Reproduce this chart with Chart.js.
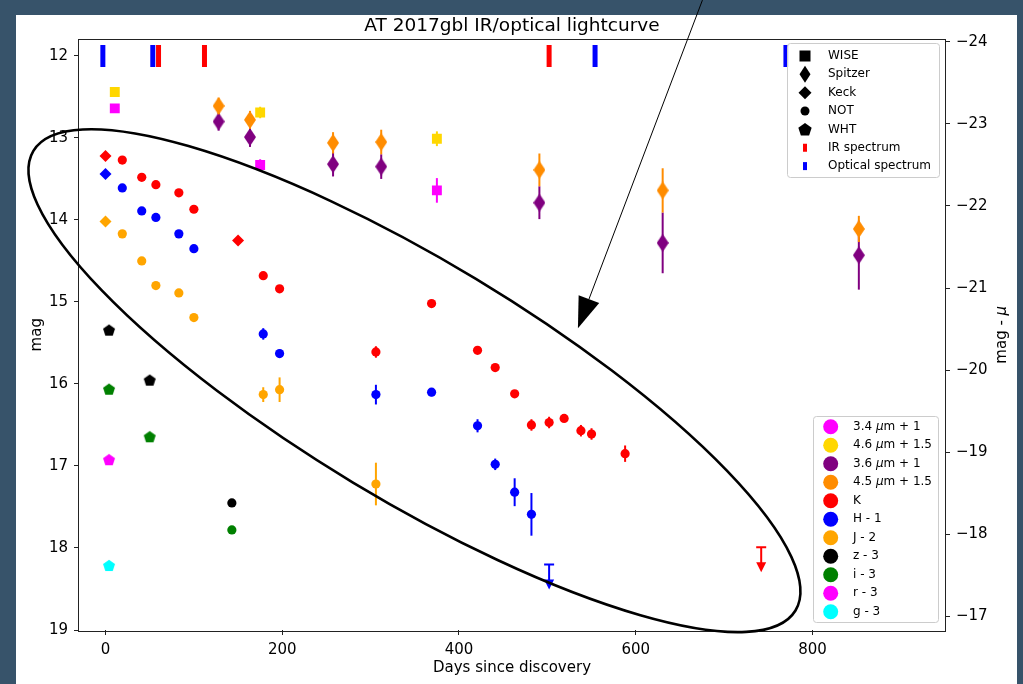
<!DOCTYPE html>
<html>
<head>
<meta charset="utf-8">
<script src="https://cdn.jsdelivr.net/npm/chart.js@4.4.1/dist/chart.umd.min.js"></script>
<style>
  html, body { margin: 0; padding: 0; background: #37536a; }
  canvas { display: block; }
</style>
</head>
<body>
<canvas id="lc" width="1023" height="684"></canvas>
<script>
const FONT = '"DejaVu Sans", "Liberation Sans", sans-serif';

// axis ranges, right axis is mag minus the distance modulus
const distMod = 35.83;
const magMin = 11.8, magMax = 19;
const dayMin = -30, dayMax = 950;
const dayTicks = [0, 200, 400, 600, 800];
const magTicks = [12, 13, 14, 15, 16, 17, 18, 19];
const absTicks = [-24, -23, -22, -21, -20, -19, -18, -17];

// WISE 3.4 um + 1
const w1Days = [10.5, 175, 375];
const w1Mags = [12.64, 13.33, 13.64];
const w1Errs = [0.03, 0.07, 0.15];
// WISE 4.6 um + 1.5
const w2Days = [10.5, 175, 375];
const w2Mags = [12.44, 12.69, 13.01];
const w2Errs = [0.04, 0.07, 0.09];
// Spitzer 3.6 um + 1
const s1Days = [128, 163.5, 257.5, 312, 491, 630.5, 852.5];
const s1Mags = [12.80, 12.99, 13.32, 13.35, 13.79, 14.28, 14.43];
const s1Errs = [0.11, 0.12, 0.15, 0.15, 0.2, 0.37, 0.42];
// Spitzer 4.5 um + 1.5
const s2Days = [128, 163.5, 257.5, 312, 491, 630.5, 852.5];
const s2Mags = [12.61, 12.78, 13.06, 13.05, 13.39, 13.64, 14.11];
const s2Errs = [0.1, 0.11, 0.13, 0.15, 0.2, 0.27, 0.16];
// K
const kDays = [0, 19, 41, 57, 83, 100, 150, 178.5, 197, 306, 369, 421, 441, 463, 482, 502, 519, 538, 550, 588];
const kMags = [13.22, 13.27, 13.48, 13.57, 13.67, 13.87, 14.25, 14.68, 14.84, 15.61, 15.02, 15.59, 15.80, 16.12, 16.50, 16.47, 16.42, 16.57, 16.61, 16.85];
const kErrs = [0, 0, 0, 0, 0, 0, 0, 0.02, 0.02, 0.07, 0.02, 0.02, 0.02, 0.03, 0.07, 0.07, 0.03, 0.07, 0.07, 0.1];
const kInst = ['Keck', 'NOT', 'NOT', 'NOT', 'NOT', 'NOT', 'Keck', 'NOT', 'NOT', 'NOT', 'NOT', 'NOT', 'NOT', 'NOT', 'NOT', 'NOT', 'NOT', 'NOT', 'NOT', 'NOT'];
// H - 1
const hDays = [0, 19, 41, 57, 83, 100, 178.5, 197, 306, 369, 421, 441, 463, 482];
const hMags = [13.44, 13.61, 13.89, 13.97, 14.17, 14.35, 15.39, 15.63, 16.13, 16.10, 16.51, 16.98, 17.32, 17.59];
const hErrs = [0, 0, 0, 0, 0, 0, 0.07, 0.05, 0.12, 0.05, 0.08, 0.07, 0.17, 0.26];
const hInst = ['Keck', 'NOT', 'NOT', 'NOT', 'NOT', 'NOT', 'NOT', 'NOT', 'NOT', 'NOT', 'NOT', 'NOT', 'NOT', 'NOT'];
// J - 2
const jDays = [0, 19, 41, 57, 83, 100, 178.5, 197, 306];
const jMags = [14.02, 14.17, 14.50, 14.80, 14.89, 15.19, 16.13, 16.07, 17.22];
const jErrs = [0, 0, 0, 0, 0, 0, 0.09, 0.15, 0.26];
const jInst = ['Keck', 'NOT', 'NOT', 'NOT', 'NOT', 'NOT', 'NOT', 'NOT', 'NOT'];
// optical, WHT then NOT
const zDays = [4, 50, 143];
const zMags = [15.35, 15.96, 17.45];
const iDays = [4, 50, 143];
const iMags = [16.07, 16.65, 17.78];
const optInst = ['WHT', 'WHT', 'NOT'];
const rDays = [4];
const rMags = [16.93];
const gDays = [4];
const gMags = [18.22];
const gErrs = [0.05];

// upper limits (H at 502 d, K at 742 d)
const limDays = [502, 742];
const limMags = [18.20, 17.99];
const limColors = ['#0000ff', '#ff0000'];

// spectrum epochs, plotted along mag 12
const specMag = 12;
const irSpecDays = [60, 112, 502];
const optSpecDays = [-3, 53.5, 554, 770];

const bandLabels = ['3.4 μm + 1', '4.6 μm + 1.5', '3.6 μm + 1', '4.5 μm + 1.5', 'K', 'H - 1', 'J - 2', 'z - 3', 'i - 3', 'r - 3', 'g - 3'];
const bandColors = ['#ff00ff', '#ffd700', '#800080', '#ff8c00', '#ff0000', '#0000ff', '#ffa500', '#000000', '#008000', '#ff00ff', '#00ffff'];
const instLabels = ['WISE', 'Spitzer', 'Keck', 'NOT', 'WHT', 'IR spectrum', 'Optical spectrum'];

// custom marker images for shapes Chart.js lacks
const markerCache = {};
function shapeCanvas(kind, color) {
  const key = kind + color;
  if (markerCache[key]) return markerCache[key];
  const c = document.createElement('canvas');
  const g = c.getContext('2d');
  if (kind === 'thin') {
    c.width = 12; c.height = 18;
    g.fillStyle = color;
    g.beginPath();
    g.moveTo(6, 0); g.lineTo(12, 9); g.lineTo(6, 18); g.lineTo(0, 9);
    g.closePath(); g.fill();
  } else {
    c.width = 14; c.height = 14;
    g.fillStyle = color;
    pentagon(g, 7, 7, 6.3);
    g.fill();
  }
  markerCache[key] = c;
  return c;
}
function pentagon(g, cx, cy, r) {
  g.beginPath();
  for (let k = 0; k < 5; k++) {
    const a = -Math.PI / 2 + k * 2 * Math.PI / 5;
    const px = cx + r * Math.cos(a), py = cy + r * Math.sin(a);
    if (k === 0) g.moveTo(px, py); else g.lineTo(px, py);
  }
  g.closePath();
}
function markerStyle(inst, color) {
  if (inst === 'WISE') return 'rect';
  if (inst === 'Keck') return 'rectRot';
  if (inst === 'Spitzer') return shapeCanvas('thin', color);
  if (inst === 'WHT') return shapeCanvas('pent', color);
  return 'circle';
}
function markerRadius(inst) {
  if (inst === 'WISE') return 7;
  if (inst === 'Keck') return 6;
  if (inst === 'NOT') return 4.6;
  return 7;
}

function series(idx, days, mags, errs, inst) {
  const color = bandColors[idx];
  const instOf = i => Array.isArray(inst) ? inst[i] : inst;
  return {
    label: bandLabels[idx],
    data: days.map((d, i) => ({ x: d, y: mags[i] })),
    errs: errs,
    order: -idx,
    showLine: false,
    backgroundColor: color,
    borderColor: color,
    pointBackgroundColor: color,
    pointBorderColor: color,
    pointBorderWidth: 0,
    pointStyle: ctx => markerStyle(instOf(ctx.dataIndex), color),
    pointRadius: ctx => markerRadius(instOf(ctx.dataIndex))
  };
}
function specSeries(days, color) {
  return {
    data: days.map(d => ({ x: d, y: specMag })),
    order: -20,
    showLine: false,
    pointStyle: 'line',
    pointRotation: 90,
    pointRadius: 11,
    pointBorderWidth: 5,
    pointBorderColor: color,
    pointBackgroundColor: color
  };
}

const datasets = [
  series(0, w1Days, w1Mags, w1Errs, 'WISE'),
  series(1, w2Days, w2Mags, w2Errs, 'WISE'),
  series(2, s1Days, s1Mags, s1Errs, 'Spitzer'),
  series(3, s2Days, s2Mags, s2Errs, 'Spitzer'),
  series(4, kDays, kMags, kErrs, kInst),
  series(5, hDays, hMags, hErrs, hInst),
  series(6, jDays, jMags, jErrs, jInst),
  series(7, zDays, zMags, null, optInst),
  series(8, iDays, iMags, null, optInst),
  series(9, rDays, rMags, null, 'WHT'),
  series(10, gDays, gMags, gErrs, 'WHT'),
  specSeries(irSpecDays, '#ff0000'),
  specSeries(optSpecDays, '#0000ff')
];

// annotation: ellipse around the NIR decline and an arrow coming from above
const ellipseCenter = { x: 349.6, y: 15.96 };
const ellipseRadii = [445, 119];
const ellipseAngle = 31.1;
const arrowTail = { x: 675.5, y: 11.32 };
const arrowTip = { x: 534.6, y: 15.32 };

// draw text with an italic mu
function richText(ctx, text, x, y, size, align) {
  const parts = text.split('μ');
  const up = `${size}px ${FONT}`, it = `italic ${size}px ${FONT}`;
  let total = 0;
  const widths = [];
  parts.forEach((p, i) => {
    ctx.font = up; widths.push(ctx.measureText(p).width); total += widths[widths.length - 1];
    if (i < parts.length - 1) { ctx.font = it; widths.push(ctx.measureText('μ').width); total += widths[widths.length - 1]; }
  });
  let cx = align === 'center' ? x - total / 2 : x;
  let w = 0;
  ctx.textAlign = 'left';
  parts.forEach((p, i) => {
    ctx.font = up; ctx.fillText(p, cx, y); cx += widths[w++];
    if (i < parts.length - 1) { ctx.font = it; ctx.fillText('μ', cx, y); cx += widths[w++]; }
  });
}

function legendBox(ctx, x0, y0, x1, y1) {
  ctx.save();
  ctx.beginPath();
  ctx.roundRect(x0, y0, x1 - x0, y1 - y0, 3);
  ctx.fillStyle = 'rgba(255,255,255,0.8)';
  ctx.fill();
  ctx.strokeStyle = '#cccccc';
  ctx.lineWidth = 1;
  ctx.stroke();
  ctx.restore();
}

const framePlugin = {
  id: 'frame',
  beforeDraw(chart) {
    const { ctx, width, height } = chart;
    ctx.save();
    ctx.fillStyle = '#37536a';
    ctx.fillRect(0, 0, width, height);
    ctx.fillStyle = '#ffffff';
    ctx.fillRect(16, 15, 1001, height - 15);
    ctx.fillStyle = '#000';
    ctx.font = `18.5px ${FONT}`;
    ctx.textAlign = 'center';
    ctx.textBaseline = 'alphabetic';
    ctx.fillText('AT 2017gbl IR/optical lightcurve', 512, 30.5);
    ctx.restore();
  },
  beforeDatasetDraw(chart, args) {
    const ds = chart.data.datasets[args.index];
    if (!ds.errs) return;
    const { ctx, scales: { x, y } } = chart;
    ctx.save();
    ctx.strokeStyle = ds.backgroundColor;
    ctx.lineWidth = 2;
    ds.data.forEach((p, i) => {
      const e = ds.errs[i];
      if (!e) return;
      const px = x.getPixelForValue(p.x);
      ctx.beginPath();
      ctx.moveTo(px, y.getPixelForValue(p.y - e));
      ctx.lineTo(px, y.getPixelForValue(p.y + e));
      ctx.stroke();
    });
    ctx.restore();
  },
  afterDatasetsDraw(chart) {
    const { ctx, scales: { x, y } } = chart;
    ctx.save();
    // upper limits: cap plus downward arrow
    limDays.forEach((d, i) => {
      const px = x.getPixelForValue(d), py = y.getPixelForValue(limMags[i]);
      ctx.strokeStyle = ctx.fillStyle = limColors[i];
      ctx.lineWidth = 2;
      ctx.beginPath();
      ctx.moveTo(px - 5, py); ctx.lineTo(px + 5, py);
      ctx.moveTo(px, py); ctx.lineTo(px, py + 16);
      ctx.stroke();
      ctx.beginPath();
      ctx.moveTo(px - 5, py + 15); ctx.lineTo(px + 5, py + 15); ctx.lineTo(px, py + 25);
      ctx.closePath(); ctx.fill();
    });
    ctx.restore();
  },
  afterDraw(chart) {
    const { ctx, chartArea: a, scales: { x, y } } = chart;
    ctx.save();
    // spines
    ctx.strokeStyle = '#222';
    ctx.lineWidth = 1;
    ctx.strokeRect(Math.round(a.left) - 0.5, Math.round(a.top) - 0.5, Math.round(a.right - a.left) + 1, Math.round(a.bottom - a.top) + 1);

    // ellipse
    ctx.strokeStyle = '#000';
    ctx.lineWidth = 2.6;
    ctx.beginPath();
    ctx.ellipse(x.getPixelForValue(ellipseCenter.x), y.getPixelForValue(ellipseCenter.y),
      ellipseRadii[0], ellipseRadii[1], ellipseAngle * Math.PI / 180, 0, 2 * Math.PI);
    ctx.stroke();

    // arrow
    const tx = x.getPixelForValue(arrowTail.x), ty = y.getPixelForValue(arrowTail.y);
    const hx = x.getPixelForValue(arrowTip.x), hy = y.getPixelForValue(arrowTip.y);
    const len = Math.hypot(hx - tx, hy - ty);
    const ux = (hx - tx) / len, uy = (hy - ty) / len;
    const bx = hx - 31 * ux, by = hy - 31 * uy;
    ctx.lineWidth = 1;
    ctx.beginPath();
    ctx.moveTo(tx, ty); ctx.lineTo(bx, by);
    ctx.stroke();
    ctx.fillStyle = '#000';
    ctx.beginPath();
    ctx.moveTo(hx, hy);
    ctx.lineTo(bx - 11 * uy, by + 11 * ux);
    ctx.lineTo(bx + 11 * uy, by - 11 * ux);
    ctx.closePath();
    ctx.fill();

    // instrument legend
    legendBox(ctx, 787.5, 43.5, 939.5, 177.5);
    ctx.textBaseline = 'middle';
    instLabels.forEach((lab, i) => {
      const cy = 56 + i * 18.35, cx = 805;
      ctx.fillStyle = '#000';
      if (lab === 'WISE') ctx.fillRect(cx - 5.5, cy - 5.5, 11, 11);
      else if (lab === 'Spitzer') { ctx.beginPath(); ctx.moveTo(cx, cy - 8.5); ctx.lineTo(cx + 5.5, cy); ctx.lineTo(cx, cy + 8.5); ctx.lineTo(cx - 5.5, cy); ctx.closePath(); ctx.fill(); }
      else if (lab === 'Keck') { ctx.beginPath(); ctx.moveTo(cx, cy - 6.5); ctx.lineTo(cx + 6.5, cy); ctx.lineTo(cx, cy + 6.5); ctx.lineTo(cx - 6.5, cy); ctx.closePath(); ctx.fill(); }
      else if (lab === 'NOT') { ctx.beginPath(); ctx.arc(cx, cy, 4.5, 0, 2 * Math.PI); ctx.fill(); }
      else if (lab === 'WHT') { pentagon(ctx, cx, cy + 0.5, 7); ctx.fill(); }
      else { ctx.fillStyle = lab === 'IR spectrum' ? '#ff0000' : '#0000ff'; ctx.fillRect(cx - 2, cy - 4, 4, 8); }
      ctx.fillStyle = '#000';
      ctx.font = `12px ${FONT}`;
      ctx.textAlign = 'left';
      ctx.fillText(lab, 828, cy);
    });

    // band legend
    legendBox(ctx, 813.5, 416.5, 938.5, 622.5);
    bandLabels.forEach((lab, i) => {
      const cy = 426.7 + i * 18.5;
      ctx.fillStyle = bandColors[i];
      ctx.beginPath(); ctx.arc(830.7, cy, 7.5, 0, 2 * Math.PI); ctx.fill();
      ctx.fillStyle = '#000';
      richText(ctx, lab, 853, cy, 12, 'left');
    });

    // right axis title, reads bottom to top
    ctx.save();
    ctx.translate(1002, (a.top + a.bottom) / 2);
    ctx.rotate(-Math.PI / 2);
    ctx.fillStyle = '#000';
    ctx.textBaseline = 'middle';
    richText(ctx, 'mag - μ', 0, 0, 15, 'center');
    ctx.restore();
    ctx.restore();
  }
};

const tickFont = { family: FONT, size: 15 };
const tickGrid = { drawOnChartArea: false, drawTicks: true, tickLength: 5, color: '#222', tickWidth: 1 };
const minus = v => String(v).replace('-', '\u2212');
const fixedTicks = vals => s => { s.ticks = vals.map(v => ({ value: v })); };

new Chart(document.getElementById('lc'), {
  type: 'scatter',
  data: { datasets },
  options: {
    responsive: false,
    animation: false,
    events: [],
    layout: { padding: { left: 16, right: 6, top: 39.5, bottom: 0 } },
    plugins: { legend: { display: false }, tooltip: { enabled: false } },
    scales: {
      x: {
        type: 'linear', position: 'bottom', min: dayMin, max: dayMax,
        afterBuildTicks: fixedTicks(dayTicks),
        ticks: { color: '#000', font: tickFont, padding: 6, maxRotation: 0 },
        grid: tickGrid,
        border: { display: false },
        title: { display: true, text: 'Days since discovery', color: '#000', font: tickFont, padding: { top: 0, bottom: 7 } },
        afterFit: s => { s.height = 54; }
      },
      y: {
        type: 'linear', position: 'left', reverse: true, min: magMin, max: magMax,
        afterBuildTicks: fixedTicks(magTicks),
        ticks: { color: '#000', font: tickFont, padding: 6 },
        grid: tickGrid,
        border: { display: false },
        title: { display: true, text: 'mag', color: '#000', font: tickFont, padding: { top: 12.5, bottom: 0 } },
        afterFit: s => { s.width = 63; }
      },
      y2: {
        type: 'linear', position: 'right', reverse: true, min: magMin - distMod, max: magMax - distMod,
        afterBuildTicks: fixedTicks(absTicks),
        ticks: { color: '#000', font: tickFont, padding: 6, callback: minus },
        grid: tickGrid,
        border: { display: false },
        afterFit: s => { s.width = 72; }
      }
    }
  },
  plugins: [framePlugin]
});
</script>
</body>
</html>
